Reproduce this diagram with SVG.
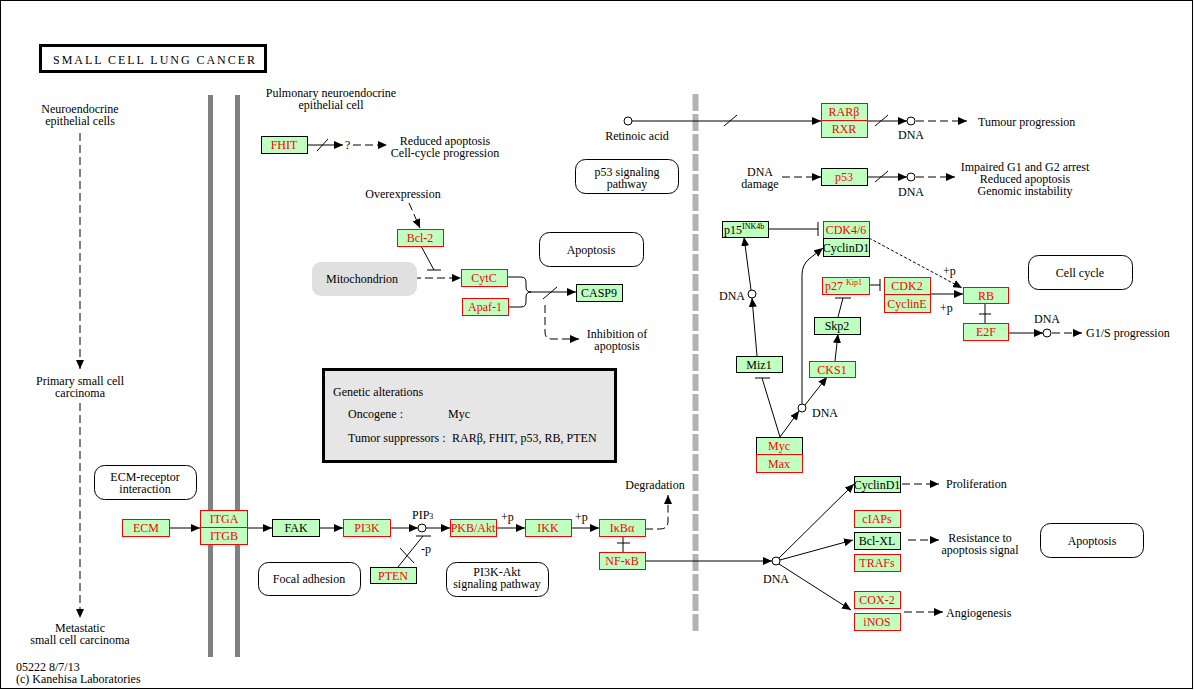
<svg xmlns="http://www.w3.org/2000/svg" width="1194" height="690" viewBox="0 0 1194 690" font-family="'Liberation Serif','Times New Roman',serif">
<style>
text{font-family:"Liberation Serif","Times New Roman",serif;font-size:12px;fill:#000}
.c{text-anchor:middle}
.r{fill:#f00}
.g{fill:#bfffbf;stroke:#f00;stroke-width:1}
.k{fill:#bfffbf;stroke:#000;stroke-width:1}
.pw{fill:#fff;stroke:#000;stroke-width:1}
.ln{stroke:#000;fill:none;stroke-width:1}
.ds{stroke-dasharray:8 4}
.fd{stroke-dasharray:3 2}
.ar{marker-end:url(#a)}
.dot{fill:#fff;stroke:#000;stroke-width:1}
</style>
<defs>
<marker id="a" markerUnits="userSpaceOnUse" markerWidth="9" markerHeight="8" refX="9" refY="4" orient="auto">
<path d="M0,0 L9,4 L0,8 z" fill="#000"/>
</marker>
</defs>
<rect x="0.5" y="0.5" width="1192" height="688" fill="#fff" stroke="#000" stroke-width="1"/>

<g id="title">
<rect x="40.5" y="45.5" width="225" height="26" fill="#fff" stroke="#000" stroke-width="3"/>
<text x="53" y="64" font-size="14" textLength="202" lengthAdjust="spacing">SMALL CELL LUNG CANCER</text>
</g>

<g id="membranes">
<rect x="208" y="95" width="5" height="562" fill="#808080"/>
<rect x="235" y="95" width="5" height="562" fill="#808080"/>
<line x1="695.5" y1="94" x2="695.5" y2="632" stroke="#b3b3b3" stroke-width="6" stroke-dasharray="17 3"/>
</g>

<g id="labels">
<text class="c" x="80" y="112.5"><tspan x="80">Neuroendocrine</tspan><tspan x="80" dy="12">epithelial cells</tspan></text>
<text class="c" x="80" y="384.5"><tspan x="80">Primary small cell</tspan><tspan x="80" dy="12">carcinoma</tspan></text>
<text class="c" x="80" y="631.5"><tspan x="80">Metastatic</tspan><tspan x="80" dy="12">small cell carcinoma</tspan></text>
<text x="16" y="671"><tspan x="16">05222 8/7/13</tspan><tspan x="16" dy="12">(c) Kanehisa Laboratories</tspan></text>
<text class="c" x="331" y="96.5"><tspan x="331">Pulmonary neuroendocrine</tspan><tspan x="331" dy="12">epithelial cell</tspan></text>
<text x="345" y="149">?</text>
<text class="c" x="445" y="145"><tspan x="445">Reduced apoptosis</tspan><tspan x="445" dy="12">Cell-cycle progression</tspan></text>
<text class="c" x="403" y="198">Overexpression</text>
<text class="c" x="617" y="337.5"><tspan x="617">Inhibition of</tspan><tspan x="617" dy="12">apoptosis</tspan></text>
<text class="c" x="637" y="140">Retinoic acid</text>
<text class="c" x="911" y="139">DNA</text>
<text x="978" y="126">Tumour progression</text>
<text class="c" x="760" y="175.5"><tspan x="760">DNA</tspan><tspan x="760" dy="12">damage</tspan></text>
<text class="c" x="911" y="196">DNA</text>
<text class="c" x="1025" y="170.5"><tspan x="1025">Impaired G1 and G2 arrest</tspan><tspan x="1025" dy="12">Reduced apoptosis</tspan><tspan x="1025" dy="12">Genomic instability</tspan></text>
<text x="745" y="300" text-anchor="end">DNA</text>
<text x="812" y="417">DNA</text>
<text x="943" y="275">+p</text>
<text x="940" y="312">+p</text>
<text class="c" x="1047" y="323">DNA</text>
<text x="1086" y="337">G1/S progression</text>
<text x="412" y="519">PIP<tspan font-size="8">3</tspan></text>
<text x="421" y="553">-p</text>
<text x="501" y="521">+p</text>
<text x="575" y="521">+p</text>
<text class="c" x="655" y="489">Degradation</text>
<text class="c" x="776" y="583">DNA</text>
<text x="946" y="488">Proliferation</text>
<text class="c" x="980" y="541.5"><tspan x="980">Resistance to</tspan><tspan x="980" dy="12">apoptosis signal</tspan></text>
<text x="946" y="617">Angiogenesis</text>
</g>

<g id="genetic-alterations">
<rect x="323.5" y="369.5" width="292" height="92" fill="#e6e6e6" stroke="#000" stroke-width="3"/>
<text x="333" y="396">Genetic alterations</text>
<text x="348" y="418">Oncogene :</text>
<text x="448" y="418">Myc</text>
<text x="348" y="442">Tumor suppressors :</text>
<text x="452" y="442">RARβ, FHIT, p53, RB, PTEN</text>
</g>

<g id="connectors">
<line class="ln ds ar" x1="80" y1="133" x2="80" y2="369"/>
<line class="ln ds ar" x1="80" y1="403" x2="80" y2="618"/>
<line class="ln ar" x1="307" y1="145" x2="343" y2="145"/>
<line class="ln" x1="317" y1="151" x2="328" y2="139"/>
<line class="ln ds ar" x1="353" y1="145" x2="387" y2="145"/>
<line class="ln ds ar" x1="409" y1="203" x2="420" y2="228"/>
<line class="ln" x1="421" y1="246" x2="434" y2="270"/>
<line class="ln" x1="427" y1="270" x2="441" y2="270"/>
<line class="ln ds ar" x1="413" y1="278" x2="461" y2="278"/>
<path class="ln" d="M507,277 H521 Q526,277 526,282 V287 Q526,292 531,292"/>
<path class="ln" d="M508,307 H521 Q526,307 526,302 V297 Q526,292 531,292"/>
<line class="ln ar" x1="530" y1="292" x2="576" y2="292"/>
<line class="ln" x1="543" y1="299" x2="557" y2="287"/>
<path class="ln ds ar" d="M545,305 V332 Q545,339 552,339 H579"/>
<circle class="dot" cx="628" cy="121" r="4"/>
<line class="ln ar" x1="632" y1="121" x2="821" y2="121"/>
<line class="ln" x1="724" y1="126" x2="737" y2="115"/>
<line class="ln ar" x1="867" y1="121" x2="907" y2="121"/>
<line class="ln" x1="875" y1="126" x2="888" y2="115"/>
<circle class="dot" cx="911" cy="121" r="4"/>
<line class="ln ds ar" x1="916" y1="121" x2="967" y2="121"/>
<line class="ln ds ar" x1="782" y1="177" x2="821" y2="177"/>
<line class="ln ar" x1="867" y1="177" x2="907" y2="177"/>
<line class="ln" x1="875" y1="182" x2="888" y2="171"/>
<circle class="dot" cx="911" cy="177" r="4"/>
<line class="ln ds ar" x1="916" y1="177" x2="955" y2="177"/>
<line class="ln" x1="768" y1="229" x2="818" y2="229"/>
<line class="ln" x1="818" y1="222" x2="818" y2="236"/>
<line class="ln fd ar" x1="869" y1="238" x2="962" y2="288"/>
<line class="ln" x1="869" y1="285" x2="880" y2="285"/>
<line class="ln" x1="880" y1="279" x2="880" y2="291"/>
<line class="ln ar" x1="930" y1="294" x2="963" y2="294"/>
<line class="ln" x1="985" y1="303" x2="985" y2="323"/>
<line class="ln" x1="979" y1="314" x2="991" y2="314"/>
<line class="ln ar" x1="1008" y1="333" x2="1043" y2="333"/>
<circle class="dot" cx="1047" cy="333" r="4"/>
<line class="ln ds ar" x1="1052" y1="333" x2="1082" y2="333"/>
<line class="ln" x1="838" y1="317" x2="843" y2="298"/>
<line class="ln" x1="835" y1="298" x2="851" y2="298"/>
<line class="ln ar" x1="835" y1="361" x2="838" y2="334"/>
<line class="ln ar" x1="757" y1="356" x2="752" y2="298"/>
<circle class="dot" cx="752" cy="294" r="4"/>
<line class="ln ar" x1="751" y1="290" x2="744" y2="237"/>
<line class="ln" x1="780" y1="437" x2="762" y2="378"/>
<line class="ln" x1="755" y1="378" x2="770" y2="378"/>
<line class="ln ar" x1="780" y1="437" x2="799" y2="411"/>
<circle class="dot" cx="802" cy="408" r="4"/>
<line class="ln ar" x1="805" y1="405" x2="827" y2="377"/>
<path class="ln ar" d="M802,404 V275 Q802,265 809,259 L823,248"/>
<line class="ln ar" x1="169" y1="528" x2="200" y2="528"/>
<line class="ln ar" x1="247" y1="528" x2="272" y2="528"/>
<line class="ln ar" x1="319" y1="528" x2="343" y2="528"/>
<line class="ln ar" x1="390" y1="528" x2="418" y2="528"/>
<circle class="dot" cx="422" cy="528" r="4"/>
<line class="ln ar" x1="426" y1="528" x2="450" y2="528"/>
<line class="ln ar" x1="496" y1="528" x2="525" y2="528"/>
<line class="ln ar" x1="571" y1="528" x2="599" y2="528"/>
<line class="ln" x1="416" y1="536" x2="431" y2="536"/>
<line class="ln" x1="398" y1="567" x2="423" y2="536"/>
<line class="ln" x1="400" y1="548" x2="414" y2="563"/>
<line class="ln" x1="623" y1="536" x2="623" y2="552"/>
<line class="ln" x1="617" y1="543" x2="630" y2="543"/>
<path class="ln ds ar" d="M645,529 H660 Q668,529 668,521 V495"/>
<line class="ln ar" x1="645" y1="561" x2="772" y2="561"/>
<circle class="dot" cx="776" cy="561" r="4"/>
<line class="ln ar" x1="779" y1="558" x2="854" y2="484"/>
<line class="ln ar" x1="780" y1="560" x2="853" y2="540"/>
<line class="ln ar" x1="779" y1="564" x2="851" y2="610"/>
<line class="ln ds ar" x1="902" y1="484" x2="939" y2="484"/>
<line class="ln ds ar" x1="908" y1="540" x2="939" y2="540"/>
<line class="ln ds ar" x1="904" y1="612" x2="943" y2="612"/>
</g>

<g id="map-p53"><rect class="pw" x="575.5" y="159.5" width="103" height="34" rx="10"/><text class="c" x="627" y="176"><tspan x="627">p53 signaling</tspan><tspan x="627" dy="12">pathway</tspan></text></g>
<g id="map-apoptosis1"><rect class="pw" x="539.5" y="232.5" width="104" height="34" rx="10"/><text class="c" x="591" y="254">Apoptosis</text></g>
<g id="map-cellcycle"><rect class="pw" x="1028.5" y="255.5" width="104" height="34" rx="10"/><text class="c" x="1080" y="277">Cell cycle</text></g>
<g id="map-ecm"><rect class="pw" x="94.5" y="465.5" width="102" height="34" rx="10"/><text class="c" x="145" y="481"><tspan x="145">ECM-receptor</tspan><tspan x="145" dy="12">interaction</tspan></text></g>
<g id="map-focal"><rect class="pw" x="258.5" y="562.5" width="102" height="33" rx="10"/><text class="c" x="309" y="583">Focal adhesion</text></g>
<g id="map-pi3k"><rect class="pw" x="446.5" y="562.5" width="102" height="34" rx="10"/><text class="c" x="497" y="576"><tspan x="497">PI3K-Akt</tspan><tspan x="497" dy="12">signaling pathway</tspan></text></g>
<g id="map-apoptosis2"><rect class="pw" x="1040.5" y="523.5" width="103" height="34" rx="10"/><text class="c" x="1092" y="545">Apoptosis</text></g>
<g id="mitochondrion"><rect x="312" y="262" width="105" height="34" rx="9" fill="#e0e0e0"/><text class="c" x="362" y="283">Mitochondrion</text></g>

<g id="FHIT"><rect class="k" x="261.5" y="136.5" width="46" height="17"/><text class="c r" x="284" y="149">FHIT</text></g>
<g id="Bcl-2"><rect class="g" x="397.5" y="229.5" width="46" height="17"/><text class="c r" x="420" y="242">Bcl-2</text></g>
<g id="CytC"><rect class="g" x="461.5" y="269.5" width="46" height="17"/><text class="c r" x="484" y="282">CytC</text></g>
<g id="Apaf-1"><rect class="g" x="462.5" y="298.5" width="46" height="17"/><text class="c r" x="485" y="311">Apaf-1</text></g>
<g id="CASP9"><rect class="k" x="576.5" y="284.5" width="46" height="17"/><text class="c" x="599" y="297">CASP9</text></g>
<g id="RARb-RXR"><rect class="g" x="821.5" y="103.5" width="46" height="17"/><text class="c r" x="844" y="116">RARβ</text><rect class="g" x="821.5" y="120.5" width="46" height="17"/><text class="c r" x="844" y="133">RXR</text></g>
<g id="p53"><rect class="k" x="821.5" y="168.5" width="46" height="17"/><text class="c r" x="844" y="181">p53</text></g>
<g id="p15"><rect class="k" x="722.5" y="221.5" width="46" height="16"/><text x="724" y="234">p15<tspan font-size="8" dy="-5">INK4b</tspan></text></g>
<g id="CDK46-CyclinD1"><rect class="g" x="823.5" y="221.5" width="46" height="17"/><text class="c r" x="846" y="234">CDK4/6</text><rect class="k" x="823.5" y="238.5" width="46" height="18"/><text class="c" x="846" y="252">CyclinD1</text></g>
<g id="p27"><rect class="g" x="822.5" y="277.5" width="47" height="17"/><text class="r" x="825" y="290">p27 <tspan font-size="8" dy="-5">Kip1</tspan></text></g>
<g id="CDK2-CyclinE"><rect class="g" x="884.5" y="277.5" width="46" height="17"/><text class="c r" x="907" y="290">CDK2</text><rect class="g" x="884.5" y="294.5" width="46" height="18"/><text class="c r" x="907" y="308">CyclinE</text></g>
<g id="RB"><rect class="g" x="963.5" y="287.5" width="45" height="16"/><text class="c r" x="986" y="300">RB</text></g>
<g id="E2F"><rect class="g" x="963.5" y="323.5" width="45" height="17"/><text class="c r" x="986" y="336">E2F</text></g>
<g id="Skp2"><rect class="k" x="814.5" y="317.5" width="46" height="17"/><text class="c" x="837" y="330">Skp2</text></g>
<g id="CKS1"><rect class="g" x="809.5" y="361.5" width="46" height="16"/><text class="c r" x="832" y="374">CKS1</text></g>
<g id="Miz1"><rect class="k" x="736.5" y="356.5" width="46" height="16"/><text class="c" x="759" y="369">Miz1</text></g>
<g id="Myc-Max"><rect class="k" x="756.5" y="437.5" width="46" height="17"/><text class="c r" x="779" y="450">Myc</text><rect class="g" x="756.5" y="454.5" width="46" height="18"/><text class="c r" x="779" y="468">Max</text></g>
<g id="ECM"><rect class="g" x="122.5" y="519.5" width="47" height="17"/><text class="c r" x="146" y="532">ECM</text></g>
<g id="ITGA-ITGB"><rect class="g" x="200.5" y="510.5" width="47" height="17"/><text class="c r" x="224" y="523">ITGA</text><rect class="g" x="200.5" y="527.5" width="47" height="17"/><text class="c r" x="224" y="540">ITGB</text></g>
<g id="FAK"><rect class="k" x="272.5" y="519.5" width="47" height="17"/><text class="c" x="296" y="532">FAK</text></g>
<g id="PI3K"><rect class="g" x="343.5" y="519.5" width="47" height="17"/><text class="c r" x="367" y="532">PI3K</text></g>
<g id="PKB-Akt"><rect class="g" x="450.5" y="519.5" width="46" height="17"/><text class="c r" x="473" y="532">PKB/Akt</text></g>
<g id="IKK"><rect class="g" x="525.5" y="519.5" width="46" height="17"/><text class="c r" x="548" y="532">IKK</text></g>
<g id="IkBa"><rect class="g" x="599.5" y="519.5" width="46" height="17"/><text class="c r" x="622" y="532">IκBα</text></g>
<g id="NF-kB"><rect class="g" x="599.5" y="552.5" width="46" height="17"/><text class="c r" x="622" y="565">NF-κB</text></g>
<g id="PTEN"><rect class="k" x="370.5" y="567.5" width="46" height="16"/><text class="c r" x="393" y="580">PTEN</text></g>
<g id="CyclinD1"><rect class="k" x="854.5" y="476.5" width="46" height="16"/><text class="c" x="877" y="489">CyclinD1</text></g>
<g id="cIAPs"><rect class="g" x="854.5" y="510.5" width="46" height="17"/><text class="c r" x="877" y="523">cIAPs</text></g>
<g id="Bcl-XL"><rect class="k" x="854.5" y="532.5" width="46" height="17"/><text class="c" x="877" y="545">Bcl-XL</text></g>
<g id="TRAFs"><rect class="g" x="854.5" y="554.5" width="46" height="17"/><text class="c r" x="877" y="567">TRAFs</text></g>
<g id="COX-2"><rect class="g" x="854.5" y="591.5" width="46" height="17"/><text class="c r" x="877" y="604">COX-2</text></g>
<g id="iNOS"><rect class="g" x="854.5" y="613.5" width="46" height="17"/><text class="c r" x="877" y="626">iNOS</text></g>
</svg>
